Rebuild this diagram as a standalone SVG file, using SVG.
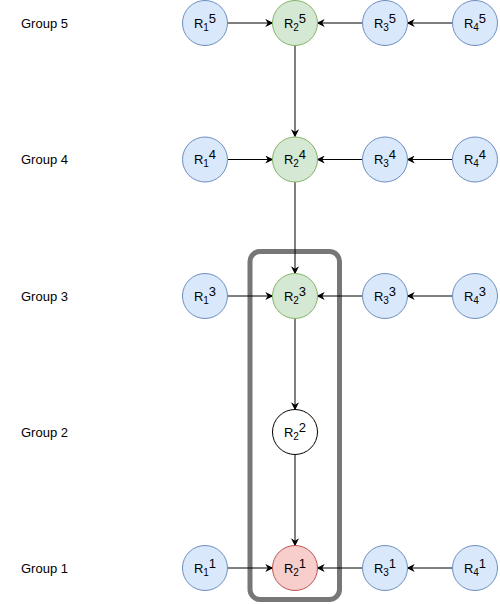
<svg xmlns="http://www.w3.org/2000/svg" width="500" height="604" viewBox="0 0 500 604">
<style>
text{font-family:"Liberation Sans",Arial,sans-serif;font-size:13px;fill:#000}
.b{fill:#dae8fc;stroke:#6c8ebf;stroke-width:1}
.g{fill:#d5e8d4;stroke:#82b366;stroke-width:1}
.r{fill:#f8cecc;stroke:#b85450;stroke-width:1}
.w{fill:#fff;stroke:#000;stroke-width:1}
.e{stroke:#000;stroke-width:1;fill:none;marker-end:url(#a)}
.lb{text-anchor:middle}
.s{font-size:10px}
</style>
<defs>
<marker id="a" viewBox="0 0 10 10" refX="9" refY="5" markerWidth="8" markerHeight="8" markerUnits="userSpaceOnUse" orient="auto">
<path d="M0,0 L10,5 L0,10 L3,5 Z" fill="#000"/>
</marker>
</defs>
<g id="labels">
<text x="21" y="27.5">Group 5</text>
<text x="21" y="164">Group 4</text>
<text x="21" y="300.5">Group 3</text>
<text x="21" y="436.5">Group 2</text>
<text x="21" y="572.5">Group 1</text>
</g>
<rect id="highlight" x="250" y="251.5" width="89.5" height="348" rx="10" fill="none" stroke="#777" stroke-width="5"/>
<g id="connectors">
<line class="e" x1="227.5" y1="23" x2="272.5" y2="23"/>
<line class="e" x1="362.5" y1="23" x2="317.5" y2="23"/>
<line class="e" x1="452.5" y1="23" x2="407.5" y2="23"/>
<line class="e" x1="295" y1="45.5" x2="295" y2="136.5"/>
<line class="e" x1="227.5" y1="159.5" x2="272.5" y2="159.5"/>
<line class="e" x1="362.5" y1="159.5" x2="317.5" y2="159.5"/>
<line class="e" x1="452.5" y1="159.5" x2="407.5" y2="159.5"/>
<line class="e" x1="295" y1="182" x2="295" y2="273.5"/>
<line class="e" x1="227.5" y1="296" x2="272.5" y2="296"/>
<line class="e" x1="362.5" y1="296" x2="317.5" y2="296"/>
<line class="e" x1="452.5" y1="296" x2="407.5" y2="296"/>
<line class="e" x1="295" y1="318.5" x2="295" y2="409.5"/>
<line class="e" x1="295" y1="454.5" x2="295" y2="545.5"/>
<line class="e" x1="227.5" y1="568" x2="272.5" y2="568"/>
<line class="e" x1="362.5" y1="568" x2="317.5" y2="568"/>
<line class="e" x1="452.5" y1="568" x2="407.5" y2="568"/>
</g>
<g id="n15"><circle class="b" cx="205" cy="23" r="22.5"/><text class="lb" x="205" y="27.5">R<tspan class="s" dy="3">1</tspan><tspan dy="-8">5</tspan></text></g>
<g id="n25"><circle class="g" cx="295" cy="23" r="22.5"/><text class="lb" x="295" y="27.5">R<tspan class="s" dy="3">2</tspan><tspan dy="-8">5</tspan></text></g>
<g id="n35"><circle class="b" cx="385" cy="23" r="22.5"/><text class="lb" x="385" y="27.5">R<tspan class="s" dy="3">3</tspan><tspan dy="-8">5</tspan></text></g>
<g id="n45"><circle class="b" cx="475" cy="23" r="22.5"/><text class="lb" x="475" y="27.5">R<tspan class="s" dy="3">4</tspan><tspan dy="-8">5</tspan></text></g>
<g id="n14"><circle class="b" cx="205" cy="159.5" r="22.5"/><text class="lb" x="205" y="164">R<tspan class="s" dy="3">1</tspan><tspan dy="-8">4</tspan></text></g>
<g id="n24"><circle class="g" cx="295" cy="159.5" r="22.5"/><text class="lb" x="295" y="164">R<tspan class="s" dy="3">2</tspan><tspan dy="-8">4</tspan></text></g>
<g id="n34"><circle class="b" cx="385" cy="159.5" r="22.5"/><text class="lb" x="385" y="164">R<tspan class="s" dy="3">3</tspan><tspan dy="-8">4</tspan></text></g>
<g id="n44"><circle class="b" cx="475" cy="159.5" r="22.5"/><text class="lb" x="475" y="164">R<tspan class="s" dy="3">4</tspan><tspan dy="-8">4</tspan></text></g>
<g id="n13"><circle class="b" cx="205" cy="296" r="22.5"/><text class="lb" x="205" y="300.5">R<tspan class="s" dy="3">1</tspan><tspan dy="-8">3</tspan></text></g>
<g id="n23"><circle class="g" cx="295" cy="296" r="22.5"/><text class="lb" x="295" y="300.5">R<tspan class="s" dy="3">2</tspan><tspan dy="-8">3</tspan></text></g>
<g id="n33"><circle class="b" cx="385" cy="296" r="22.5"/><text class="lb" x="385" y="300.5">R<tspan class="s" dy="3">3</tspan><tspan dy="-8">3</tspan></text></g>
<g id="n43"><circle class="b" cx="475" cy="296" r="22.5"/><text class="lb" x="475" y="300.5">R<tspan class="s" dy="3">4</tspan><tspan dy="-8">3</tspan></text></g>
<g id="n22"><circle class="w" cx="295" cy="432" r="22.5"/><text class="lb" x="295" y="436.5">R<tspan class="s" dy="3">2</tspan><tspan dy="-8">2</tspan></text></g>
<g id="n11"><circle class="b" cx="205" cy="568" r="22.5"/><text class="lb" x="205" y="572.5">R<tspan class="s" dy="3">1</tspan><tspan dy="-8">1</tspan></text></g>
<g id="n21"><circle class="r" cx="295" cy="568" r="22.5"/><text class="lb" x="295" y="572.5">R<tspan class="s" dy="3">2</tspan><tspan dy="-8">1</tspan></text></g>
<g id="n31"><circle class="b" cx="385" cy="568" r="22.5"/><text class="lb" x="385" y="572.5">R<tspan class="s" dy="3">3</tspan><tspan dy="-8">1</tspan></text></g>
<g id="n41"><circle class="b" cx="475" cy="568" r="22.5"/><text class="lb" x="475" y="572.5">R<tspan class="s" dy="3">4</tspan><tspan dy="-8">1</tspan></text></g>
</svg>
